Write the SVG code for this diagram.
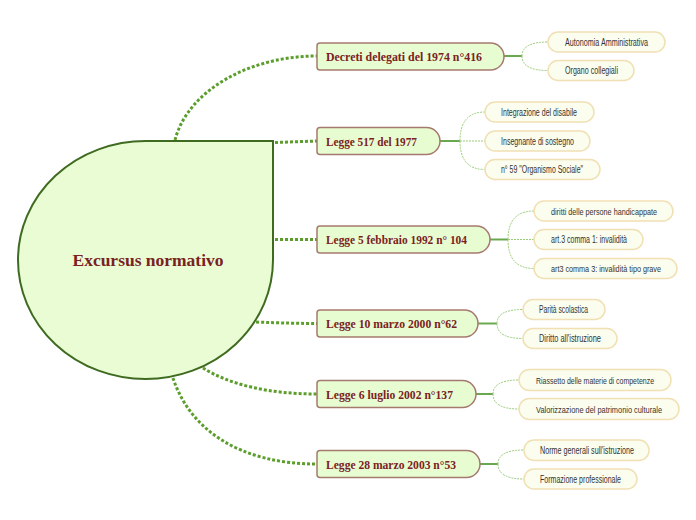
<svg xmlns="http://www.w3.org/2000/svg" width="696" height="520" viewBox="0 0 696 520">
<style>
.main-link{fill:none;stroke:#5c9e2c;stroke-width:3;stroke-dasharray:3 2}
.stem{fill:none;stroke:#6aa84f;stroke-width:2}
.sub-link{fill:none;stroke:#9ccc7a;stroke-width:1;stroke-dasharray:2 1}
.center{fill:#e9fcd4;stroke:#3f6b20;stroke-width:2}
.main{fill:#e8fcd2;stroke:#a57a6e;stroke-width:1.5}
.sub{fill:#fbfdee;stroke:#f0e0b4;stroke-width:1.5}
.ct{font-family:"Liberation Serif",serif;font-weight:bold;font-size:17px;fill:#7a2222}
.mt{font-family:"Liberation Serif",serif;font-weight:bold;font-size:12.5px;fill:#7a2222}
.st{font-family:"Liberation Sans",Arial,sans-serif;font-size:10px;fill:#333333}
.sm{font-size:9px}
</style>
<rect width="696" height="520" fill="#ffffff"/>
<g id="connectors">
<path class="main-link" d="M175,140 C188,90 250,56 317,56"/>
<path class="main-link" d="M275,142.5 L317,141"/>
<path class="main-link" d="M275,239.5 L317,239.5"/>
<path class="main-link" d="M256,322 C280,323 300,323.5 317,323.5"/>
<path class="main-link" d="M203,368 C230,385 270,394 317,394"/>
<path class="main-link" d="M173,378 C190,430 240,464 317,464"/>
<path class="stem" d="M504,56 H522"/>
<path class="sub-link" d="M522,56 Q522,42 548,42"/>
<path class="sub-link" d="M522,56 Q522,70.5 548,70.5"/>
<path class="stem" d="M440,141 H460"/>
<path class="sub-link" d="M460,141 Q460,112 485,112"/>
<path class="sub-link" d="M460,141 H485"/>
<path class="sub-link" d="M460,141 Q460,169.5 485,169.5"/>
<path class="stem" d="M490,239.5 H508"/>
<path class="sub-link" d="M508,239.5 Q508,211 534,211"/>
<path class="sub-link" d="M508,239.5 H534"/>
<path class="sub-link" d="M508,239.5 Q508,268.5 534,268.5"/>
<path class="stem" d="M478,323.5 H497"/>
<path class="sub-link" d="M497,323.5 Q497,309.5 523,309.5"/>
<path class="sub-link" d="M497,323.5 Q497,338.5 523,338.5"/>
<path class="stem" d="M476,394 H493"/>
<path class="sub-link" d="M493,394 Q493,380 519,380"/>
<path class="sub-link" d="M493,394 Q493,409 519,409"/>
<path class="stem" d="M480,464 H498"/>
<path class="sub-link" d="M498,464 Q498,450 524,450"/>
<path class="sub-link" d="M498,464 Q498,479 524,479"/>
</g>
<g id="center">
<path class="center" d="M145.5,141 H273 V260 A127.5,119 0 0 1 145.5,379 A127.5,119 0 0 1 18,260 A127.5,119 0 0 1 145.5,141 Z"/>
<text class="ct" x="148" y="266" text-anchor="middle" textLength="151" lengthAdjust="spacingAndGlyphs">Excursus normativo</text>
</g>
<g id="n1">
<path class="main" d="M317,46 Q317,43 320,43 H490.5 A13.5,13.5 0 0 1 490.5,70 H320 Q317,70 317,67 Z"/>
<text class="mt" x="326" y="60.5" textLength="156" lengthAdjust="spacingAndGlyphs">Decreti delegati del 1974 n°416</text>
</g>
<g id="n1a"><rect class="sub" x="548" y="32" width="117" height="20" rx="10"/><text class="st" x="565" y="45.5" textLength="83" lengthAdjust="spacingAndGlyphs">Autonomia Amministrativa</text></g>
<g id="n1b"><rect class="sub" x="548" y="60.5" width="86" height="20" rx="10"/><text class="st" x="565" y="74" textLength="53" lengthAdjust="spacingAndGlyphs">Organo collegiali</text></g>
<g id="n2">
<path class="main" d="M317,130.5 Q317,127.5 320,127.5 H426.5 A13.5,13.5 0 0 1 426.5,154.5 H320 Q317,154.5 317,151.5 Z"/>
<text class="mt" x="326" y="145.5" textLength="91" lengthAdjust="spacingAndGlyphs">Legge 517 del 1977</text>
</g>
<g id="n2a"><rect class="sub" x="485" y="102" width="109" height="20" rx="10"/><text class="st" x="501" y="115.5" textLength="76" lengthAdjust="spacingAndGlyphs">Integrazione del disabile</text></g>
<g id="n2b"><rect class="sub" x="485" y="131" width="105" height="20" rx="10"/><text class="st" x="501" y="144.5" textLength="73" lengthAdjust="spacingAndGlyphs">Insegnante di sostegno</text></g>
<g id="n2c"><rect class="sub" x="485" y="159.5" width="115" height="20" rx="10"/><text class="st" x="501" y="173" textLength="82" lengthAdjust="spacingAndGlyphs">n° 59 "Organismo Sociale"</text></g>
<g id="n3">
<path class="main" d="M317,229 Q317,226 320,226 H476.5 A13.5,13.5 0 0 1 476.5,253 H320 Q317,253 317,250 Z"/>
<text class="mt" x="326" y="244" textLength="141" lengthAdjust="spacingAndGlyphs">Legge 5 febbraio 1992 n° 104</text>
</g>
<g id="n3a"><rect class="sub" x="534" y="201" width="139" height="20" rx="10"/><text class="st sm" x="551" y="214.5" textLength="106" lengthAdjust="spacingAndGlyphs">diritti delle persone handicappate</text></g>
<g id="n3b"><rect class="sub" x="534" y="229.5" width="109" height="20" rx="10"/><text class="st" x="551" y="243" textLength="76" lengthAdjust="spacingAndGlyphs">art.3 comma 1: invalidità</text></g>
<g id="n3c"><rect class="sub" x="534" y="258.5" width="143" height="20" rx="10"/><text class="st sm" x="551" y="272" textLength="110" lengthAdjust="spacingAndGlyphs">art3 comma 3: invalidità tipo grave</text></g>
<g id="n4">
<path class="main" d="M317,313 Q317,310 320,310 H464.5 A13.5,13.5 0 0 1 464.5,337 H320 Q317,337 317,334 Z"/>
<text class="mt" x="326" y="328" textLength="131" lengthAdjust="spacingAndGlyphs">Legge 10 marzo 2000 n°62</text>
</g>
<g id="n4a"><rect class="sub" x="523" y="299.5" width="82" height="20" rx="10"/><text class="st" x="539" y="313" textLength="49" lengthAdjust="spacingAndGlyphs">Parità scolastica</text></g>
<g id="n4b"><rect class="sub" x="523" y="328.5" width="94" height="20" rx="10"/><text class="st" x="539" y="342" textLength="62" lengthAdjust="spacingAndGlyphs">Diritto all'istruzione</text></g>
<g id="n5">
<path class="main" d="M317,383.5 Q317,380.5 320,380.5 H462.5 A13.5,13.5 0 0 1 462.5,407.5 H320 Q317,407.5 317,404.5 Z"/>
<text class="mt" x="326" y="398.5" textLength="127" lengthAdjust="spacingAndGlyphs">Legge 6 luglio 2002 n°137</text>
</g>
<g id="n5a"><rect class="sub" x="519" y="369.5" width="152" height="21" rx="10.5"/><text class="st sm" x="536" y="383.5" textLength="118" lengthAdjust="spacingAndGlyphs">Riassetto delle materie di competenze</text></g>
<g id="n5b"><rect class="sub" x="519" y="398.5" width="160" height="21" rx="10.5"/><text class="st sm" x="536" y="412.5" textLength="126" lengthAdjust="spacingAndGlyphs">Valorizzazione del patrimonio  culturale</text></g>
<g id="n6">
<path class="main" d="M317,453.5 Q317,450.5 320,450.5 H466.5 A13.5,13.5 0 0 1 466.5,477.5 H320 Q317,477.5 317,474.5 Z"/>
<text class="mt" x="326" y="468.5" textLength="130" lengthAdjust="spacingAndGlyphs">Legge 28 marzo 2003 n°53</text>
</g>
<g id="n6a"><rect class="sub" x="524" y="440" width="125" height="20.5" rx="10"/><text class="st" x="540" y="453.5" textLength="94" lengthAdjust="spacingAndGlyphs">Norme generali sull'istruzione</text></g>
<g id="n6b"><rect class="sub" x="524" y="469" width="113" height="20" rx="10"/><text class="st" x="540" y="482.5" textLength="81" lengthAdjust="spacingAndGlyphs">Formazione professionale</text></g>
</svg>
